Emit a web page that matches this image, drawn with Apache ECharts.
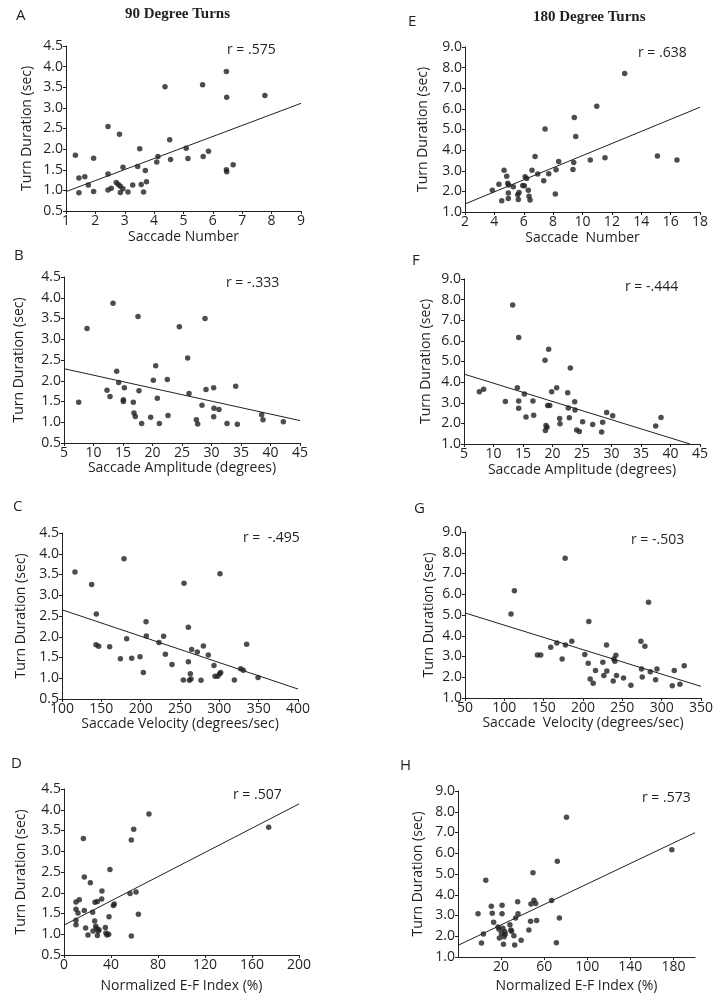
<!DOCTYPE html>
<html>
<head>
<meta charset="utf-8">
<script src="https://cdn.jsdelivr.net/npm/echarts@6/dist/echarts.min.js"></script>
<style>html,body{margin:0;padding:0;background:#fff}#c{width:728px;height:1003px}</style>
</head>
<body>
<div id="c"></div>
<script>
// ---------- DATA ----------
const panelTitles = ["90 Degree Turns", "180 Degree Turns"];
const panelLetters = ["A", "B", "C", "D", "E", "F", "G", "H"];
const rLabels = ["r = .575", "r = -.333", "r =  -.495", "r = .507", "r = .638", "r = -.444", "r = -.503", "r = .573"];
const xNames = ["Saccade Number", "Saccade Amplitude (degrees)", "Saccade Velocity (degrees/sec)", "Normalized E-F Index (%)",
                "Saccade  Number", "Saccade Amplitude (degrees)", "Saccade  Velocity (degrees/sec)", "Normalized E-F Index (%)"];
const yName = "Turn Duration (sec)";

// x axis ranges [min, max, interval]
const xRanges = [[1, 9, 1], [5, 45, 5], [100, 400, 50], [0, 200, 40], [2, 18, 2], [5, 45, 5], [50, 350, 50], [-20, 200, 20]];
const hTickLabels = [20, 60, 100, 140, 180];
// y axis ranges [min, max, interval]
const yRanges90 = [0.5, 4.5, 0.5];
const yRanges180 = [1, 9, 1];

// regression line endpoints
const lineA = [[1, 0.97], [9, 3.11]];
const lineB = [[5, 2.29], [45, 1.04]];
const lineC = [[100, 2.65], [400, 0.74]];
const lineD = [[0, 1.22], [200, 4.14]];
const lineE = [[2, 1.39], [18, 6.08]];
const lineF = [[5, 4.39], [43.3, 1.0]];
const lineG = [[50, 5.1], [350, 1.56]];
const lineH = [[-20, 1.56], [200, 6.99]];

const ptsA = [[1.32,1.85],[1.44,0.94],[1.44,1.30],[1.64,1.33],[1.76,1.13],[1.94,1.78],[1.94,0.97],[2.43,2.55],[2.43,1.40],[2.43,1.01],
  [2.54,1.05],[2.82,2.36],[2.71,1.19],[2.78,1.14],[2.85,1.10],[2.85,0.95],[2.94,1.04],[2.94,1.56],[3.11,0.96],[3.27,1.13],
  [3.44,1.58],[3.51,2.01],[3.56,1.14],[3.64,0.96],[3.70,1.48],[3.74,1.21],[4.09,1.69],[4.13,1.82],[4.37,3.51],[4.53,2.23],
  [4.56,1.75],[5.09,2.02],[5.15,1.77],[5.65,3.56],[5.67,1.82],[5.85,1.95],[6.46,3.88],[6.47,3.26],[6.46,1.50],[6.47,1.45],
  [6.69,1.62],[7.77,3.30]];

const ptsB = [[7.49,1.48],[8.90,3.26],[12.29,1.77],[12.80,1.62],[13.31,3.87],[13.93,2.23],[14.27,1.96],[15.06,1.54],[15.06,1.50],[15.23,1.83],
  [16.75,1.48],[16.86,1.22],[17.09,1.14],[17.54,3.55],[17.71,1.76],[18.16,0.97],[19.69,1.12],[20.14,2.01],[20.54,2.36],[20.82,1.58],
  [21.16,0.97],[22.51,2.03],[22.63,1.16],[24.55,3.30],[25.96,2.55],[26.19,1.69],[27.43,1.06],[27.66,0.96],[28.39,1.41],[28.90,3.50],
  [29.07,1.79],[30.37,1.83],[30.42,1.34],[30.37,1.13],[31.27,1.31],[32.63,0.97],[34.10,1.87],[34.38,0.95],[38.50,1.18],[38.73,1.06],
  [42.18,1.01]];

const ptsC = [[116.5,3.56],[137.7,3.26],[143.2,1.81],[146.6,1.77],[143.6,2.55],[160.6,1.76],[174.2,1.47],[178.8,3.88],[182.2,1.95],[188.6,1.48],
  [199.2,1.52],[203.4,1.14],[206.8,2.36],[207.2,2.02],[223.3,1.86],[229.2,2.01],[231.4,1.58],[239.8,1.33],[254.2,0.96],[255.1,3.29],
  [260.6,2.23],[260.6,1.40],[261.9,0.95],[263.1,1.11],[264.0,0.98],[264.8,1.69],[272.0,1.63],[279.7,1.78],[276.7,0.95],[286.0,1.56],
  [293.2,1.31],[294.5,1.05],[297.9,1.05],[300.4,1.11],[301.7,1.14],[300.8,3.52],[319.1,0.96],[327.1,1.23],[330.5,1.19],[334.7,1.82],
  [349.2,1.02]];

const ptsD = [[10.2,1.78],[10.2,1.60],[10.2,1.34],[10.2,1.23],[11.9,1.51],[13.0,1.83],[16.5,3.31],[17.3,2.38],[17.3,1.57],[18.4,1.15],
  [20.4,0.98],[22.4,2.24],[24.4,1.53],[24.7,1.08],[26.1,1.32],[26.4,1.77],[27.0,1.19],[27.8,1.14],[28.4,1.79],[28.4,0.97],
  [29.2,1.08],[29.8,1.11],[32.3,2.04],[32.1,1.85],[35.2,1.16],[35.7,1.03],[36.6,0.98],[38.0,1.00],[38.3,1.42],[39.1,2.56],
  [42.0,1.69],[42.8,1.73],[56.2,1.98],[57.3,3.27],[57.3,0.96],[59.3,3.53],[61.3,2.02],[63.3,1.48],[72.3,3.90],[174.2,3.58]];

const ptsE = [[3.86,2.05],[4.31,2.35],[4.50,1.55],[4.66,3.03],[4.84,2.73],[4.91,2.39],[4.97,2.31],[4.95,1.92],[4.95,1.65],[5.29,2.23],
  [5.59,1.84],[5.63,1.61],[5.68,1.95],[5.93,2.29],[6.04,2.27],[6.09,2.71],[6.20,2.63],[6.31,2.06],[6.36,1.76],[6.43,1.58],
  [6.56,3.03],[6.77,3.69],[6.95,2.84],[7.36,2.52],[7.45,5.03],[7.70,2.85],[8.15,1.87],[8.20,3.05],[8.38,3.45],[9.35,3.06],
  [9.40,3.40],[9.44,5.58],[9.54,4.66],[10.53,3.52],[10.97,6.13],[11.53,3.63],[12.87,7.71],[15.10,3.71],[16.43,3.52]];

const ptsF = [[7.60,3.53],[8.33,3.65],[12.01,3.06],[13.25,7.74],[14.04,3.73],[14.27,6.16],[14.27,3.08],[14.27,2.73],[15.23,3.42],[15.51,2.31],
  [16.69,3.08],[16.81,2.40],[18.73,5.06],[18.90,1.90],[18.79,1.65],[19.07,1.81],[19.18,2.87],[19.52,2.87],[19.35,5.60],[19.86,3.53],
  [20.71,3.73],[21.21,2.24],[21.27,1.98],[22.57,3.48],[22.68,2.74],[22.85,2.27],[23.02,4.68],[23.76,3.05],[23.81,2.65],[24.10,1.68],
  [24.55,1.61],[25.11,2.08],[26.81,1.95],[28.33,1.58],[28.50,2.06],[29.18,2.53],[30.20,2.37],[37.49,1.87],[38.39,2.29]];

const ptsG = [[108.5,5.05],[112.8,6.17],[142.1,3.07],[146.3,3.07],[159.0,3.44],[166.7,3.65],[173.5,2.88],[177.3,7.73],[177.7,3.55],[185.8,3.73],
  [202.3,3.10],[206.6,2.67],[207.4,4.69],[209.1,1.92],[212.9,1.71],[215.9,2.32],[225.2,2.72],[226.5,2.09],[229.9,3.55],[230.3,2.30],
  [238.4,1.82],[239.2,2.88],[240.5,2.77],[241.8,3.06],[242.6,2.09],[251.5,1.96],[260.9,1.61],[273.6,3.73],[274.4,2.40],[275.3,2.01],
  [278.7,3.49],[283.3,5.61],[285.5,2.27],[292.3,1.88],[294.0,2.40],[313.5,1.59],[316.0,2.32],[323.2,1.66],[328.7,2.56]];

const ptsH = [[-1.4,3.09],[1.8,1.68],[3.6,2.11],[5.8,4.70],[10.9,3.45],[11.8,3.11],[13.1,2.67],[17.2,2.45],[18.1,2.34],[18.4,1.92],
  [20.3,2.13],[20.9,3.50],[20.9,3.08],[21.6,2.38],[22.2,1.61],[22.8,1.97],[23.5,2.22],[23.8,2.10],[28.2,2.55],[29.1,2.30],
  [29.7,2.24],[31.9,2.03],[32.6,1.58],[33.5,2.88],[35.4,3.66],[35.7,3.08],[38.6,1.81],[45.8,2.30],[47.4,2.72],[47.7,3.56],
  [49.6,5.06],[50.5,3.74],[52.1,3.58],[53.0,2.76],[66.9,3.72],[71.3,1.69],[72.2,5.61],[74.1,2.88],[80.7,7.73],[178.5,6.17]];

// ---------- LAYOUT (px) ----------
const allPts = [ptsA, ptsB, ptsC, ptsD, ptsE, ptsF, ptsG, ptsH];
const allLines = [lineA, lineB, lineC, lineD, lineE, lineF, lineG, lineH];
const grids = [
  {left: 66, top: 46, width: 235, height: 165},
  {left: 64, top: 277, width: 236, height: 166},
  {left: 62, top: 533, width: 236, height: 166},
  {left: 64, top: 789, width: 235, height: 166},
  {left: 465, top: 47, width: 235, height: 165},
  {left: 464, top: 279, width: 236, height: 165},
  {left: 465, top: 532, width: 236, height: 166},
  {left: 458, top: 791, width: 237, height: 166}
];
const yNameGaps = [32, 38, 34, 36, 35, 31, 29, 33];
const xNameGaps = [19, 18, 17, 24, 19, 19, 18, 22];
const letterPos = [[16, 17], [14, 257], [13, 508], [11, 765], [408, 23], [412, 262], [414, 510], [400, 767]];
const rPos = [[227, 52], [226, 285], [243, 540], [233, 797], [638, 55], [625, 289], [631, 542], [642, 800]];

const SANS = "'Open Sans', 'Noto Sans', sans-serif";
const INK = '#231f20';

const chart = echarts.init(document.getElementById('c'), null, {renderer: 'canvas'});

const gridOpt = [], xAxes = [], yAxes = [], series = [];
for (let i = 0; i < 8; i++) {
  gridOpt.push(Object.assign({containLabel: false, outerBoundsMode: 'none', show: false}, grids[i]));
  const xr = xRanges[i];
  const xa = {
    type: 'value', gridIndex: i, min: xr[0], max: xr[1], interval: xr[2],
    name: xNames[i], nameLocation: 'middle', nameGap: xNameGaps[i],
    nameTextStyle: {fontFamily: SANS, fontSize: 14, color: INK},
    axisLine: {show: true, onZero: false, lineStyle: {color: INK, width: 1}},
    axisTick: {show: true, length: 3, inside: false, lineStyle: {color: INK}},
    axisLabel: {fontFamily: SANS, fontSize: 14, color: INK, margin: 3, showMinLabel: true, showMaxLabel: true},
    splitLine: {show: false}
  };
  if (i === 7) {
    xa.axisLabel.customValues = hTickLabels;
    xa.axisTick.customValues = hTickLabels;
  }
  xAxes.push(xa);
  const yr = i < 4 ? yRanges90 : yRanges180;
  yAxes.push({
    type: 'value', gridIndex: i, min: yr[0], max: yr[1], interval: yr[2],
    name: yName, nameLocation: 'middle', nameGap: yNameGaps[i], nameRotate: 90,
    nameTextStyle: {fontFamily: SANS, fontSize: 14, color: INK},
    axisLine: {show: true, onZero: false, lineStyle: {color: INK, width: 1}},
    axisTick: {show: true, length: 3, inside: false, lineStyle: {color: INK}},
    axisLabel: {fontFamily: SANS, fontSize: 14, color: INK, margin: 3, formatter: v => v.toFixed(1)},
    splitLine: {show: false}
  });
  series.push({
    type: 'line', xAxisIndex: i, yAxisIndex: i, data: allLines[i], showSymbol: false, symbol: 'none',
    lineStyle: {color: INK, width: 1}, silent: true, z: 2, animation: false
  });
  series.push({
    type: 'scatter', xAxisIndex: i, yAxisIndex: i, data: allPts[i], symbol: 'circle', symbolSize: 5.5,
    itemStyle: {color: INK}, silent: true, z: 3, animation: false
  });
}

const graphics = [];
graphics.push({type: 'text', left: 125, top: 7, style: {text: panelTitles[0], font: "bold 15px 'Liberation Serif', 'DejaVu Serif', serif", fill: INK}});
graphics.push({type: 'text', left: 533, top: 10, style: {text: panelTitles[1], font: "bold 15px 'Liberation Serif', 'DejaVu Serif', serif", fill: INK}});
for (let i = 0; i < 8; i++) {
  graphics.push({type: 'text', left: letterPos[i][0], top: letterPos[i][1] - 9, style: {text: panelLetters[i], font: "15px " + SANS, fill: INK}});
  graphics.push({type: 'text', left: rPos[i][0], top: rPos[i][1] - 9, style: {text: rLabels[i], font: "14px " + SANS, fill: INK}});
}

chart.setOption({
  animation: false,
  backgroundColor: '#fff',
  grid: gridOpt,
  xAxis: xAxes,
  yAxis: yAxes,
  series: series,
  graphic: graphics
});
</script>
</body>
</html>
